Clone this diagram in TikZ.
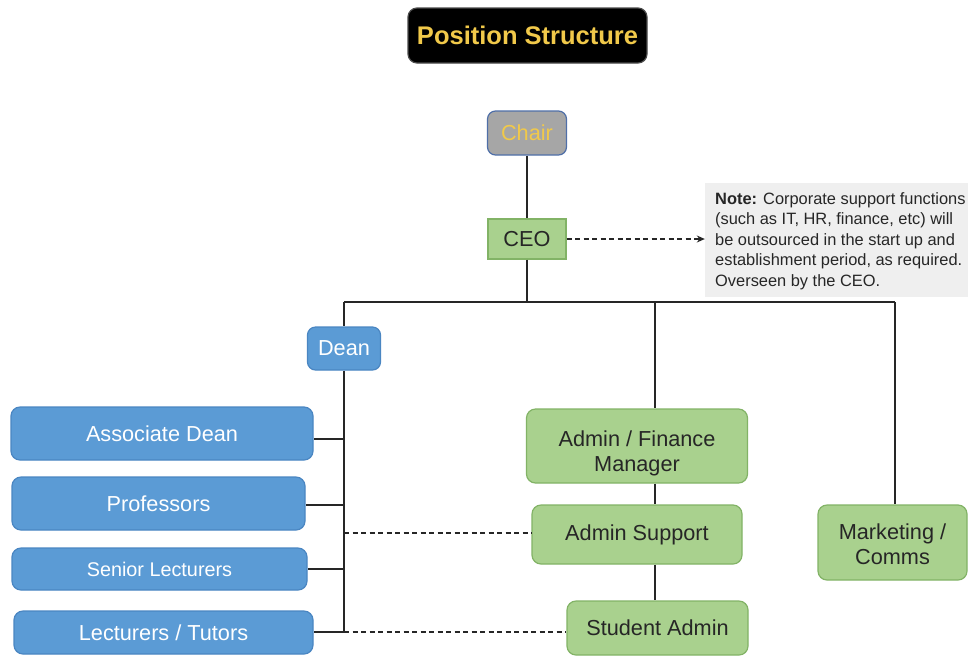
\documentclass[tikz,border=0pt]{standalone}
\usepackage{fontspec}
\setmainfont{Liberation Sans}
\usetikzlibrary{arrows.meta}
\definecolor{bluefill}{HTML}{5B9BD5}
\definecolor{blueline}{HTML}{4A86C2}
\definecolor{greenfill}{HTML}{A9D18E}
\definecolor{greenline}{HTML}{82B366}
\definecolor{grayfill}{HTML}{A6A6A6}
\definecolor{chairline}{HTML}{4F6FA8}
\definecolor{gold}{HTML}{F1C94A}
\definecolor{notefill}{HTML}{EFEFEF}
\tikzset{
  box/.style={draw, line width=1.2pt, inner sep=0pt, align=center, font=\fontsize{21.7}{25}\selectfont},
  bluebox/.style={box, fill=bluefill, draw=blueline, text=white, rounded corners=9pt},
  greenbox/.style={box, fill=greenfill, draw=greenline, text=black!85, rounded corners=9pt},
  conn/.style={line width=1.8pt, draw=black!85},
  dconn/.style={line width=1.3pt, draw=black!85, dash pattern=on 5pt off 3.5pt},
}
\begin{document}
\begin{tikzpicture}[x=1pt,y=-1pt]
\useasboundingbox[fill=white] (0,0) rectangle (968,657);
% title
\node[box, fill=black, draw=black!70, rounded corners=9pt, text=gold, minimum width=239pt, minimum height=55pt, font=\bfseries\fontsize{25.5}{30}\selectfont] (title) at (527.5,35.5) {\raisebox{-1pt}{Position Structure}};
% top
\node[box, fill=grayfill, draw=chairline, text=gold, rounded corners=8pt, minimum width=79pt, minimum height=44pt] (chair) at (527,133) {Chair};
\node[box, fill=greenfill, draw=greenline, text=black!85, minimum width=78pt, minimum height=40pt] (ceo) at (527,239) {CEO};
% note
\node[fill=notefill, minimum width=263pt, minimum height=114pt, inner sep=0pt] (notebg) at (836.5,240) {};
\node[anchor=north west, inner sep=0pt, align=left, text=black!85, font=\fontsize{16.4}{20.6}\selectfont] (note) at (715,192) {\textbf{Note:} Corporate support functions\\(such as IT, HR, finance, etc) will\\be outsourced in the start up and\\establishment period, as required.\\Overseen by the CEO.};
% dean side
\node[bluebox, rounded corners=8pt, minimum width=73pt, minimum height=43pt] (dean) at (344,348.5) {Dean};
\node[bluebox, minimum width=302pt, minimum height=53pt] (ad) at (162,433.5) {Associate Dean};
\node[bluebox, minimum width=293pt, minimum height=53pt] (prof) at (158.5,503.5) {Professors};
\node[bluebox, minimum width=295pt, minimum height=42pt, font=\fontsize{19.8}{23}\selectfont] (sl) at (159.5,569) {Senior Lecturers};
\node[bluebox, minimum width=299pt, minimum height=43pt] (lt) at (163.5,632.5) {Lecturers / Tutors};
% admin side
\node[greenbox, minimum width=221pt, minimum height=74pt, label={[yshift=-7pt, align=center, text=black!85, font=\fontsize{21.7}{25}\selectfont]center:{Admin / Finance\\Manager}}] (af) at (637,446) {};
\node[greenbox, minimum width=210pt, minimum height=59pt] (as) at (637,534.5) {Admin Support};
\node[greenbox, minimum width=181pt, minimum height=54pt] (sa) at (657.5,628) {Student Admin};
\node[greenbox, minimum width=149pt, minimum height=75pt, label={[yshift=-2pt, align=center, text=black!85, font=\fontsize{21.7}{25}\selectfont]center:{Marketing /\\Comms}}] (mc) at (892.5,542.5) {};
% coordinates
\coordinate (jc) at (527,302);
\coordinate (jl) at (344,302);
\coordinate (jm) at (655,302);
\coordinate (jr) at (895,302);
\coordinate (s1) at (344,439);
\coordinate (s2) at (344,505);
\coordinate (s3) at (344,569);
\coordinate (s4) at (344,632);
\coordinate (d1) at (344,533);
% connectors
\draw[conn] (chair.south) -- (ceo.north);
\draw[conn] (ceo.south) -- (jc);
\draw[conn] (jl) -- (jr);
\draw[conn] (jl) -- (dean.north);
\draw[conn] (dean.south) -- (s4);
\draw[conn] (s1) -- (s1 -| ad.east);
\draw[conn] (s2) -- (s2 -| prof.east);
\draw[conn] (s3) -- (s3 -| sl.east);
\draw[conn] (s4) -- (s4 -| lt.east);
\draw[conn] (jm) -- (jm |- af.north);
\draw[conn] (jm |- af.south) -- (jm |- as.north);
\draw[conn] (jm |- as.south) -- (jm |- sa.north);
\draw[conn] (jr) -- (jr |- mc.north);
\draw[dconn] (d1) -- (d1 -| as.west);
\draw[dconn] (s4) -- (s4 -| sa.west);
\draw[dconn, -{Stealth[length=8pt,width=7pt]}] (ceo.east) -- (ceo.east -| notebg.west);
\end{tikzpicture}
\end{document}
